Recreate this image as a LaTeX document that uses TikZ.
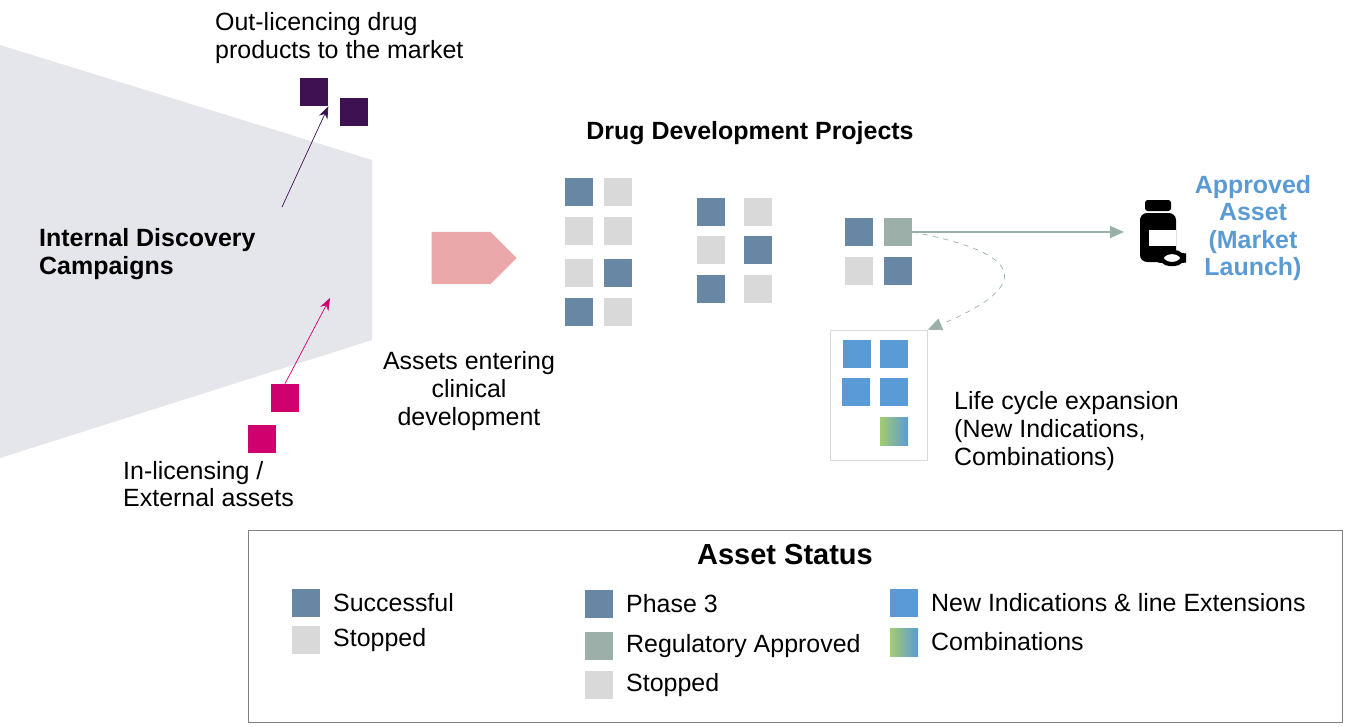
\documentclass[tikz,border=0pt]{standalone}
\usepackage{fontspec}
\setmainfont{Liberation Sans}
\usetikzlibrary{positioning,calc,shapes.arrows,arrows.meta}
\definecolor{succ}{HTML}{6787A5}
\definecolor{stop}{HTML}{D9D9D9}
\definecolor{regap}{HTML}{9CAFA8}
\definecolor{newind}{HTML}{5B9BD5}
\definecolor{comb}{HTML}{A3CC6E}
\definecolor{outc}{HTML}{3D1152}
\definecolor{inc}{HTML}{D0006F}
\definecolor{funnel}{HTML}{E5E5EC}
\definecolor{pinkarr}{HTML}{EBA8AA}
\definecolor{flow}{HTML}{9CB0AA}
\begin{document}
\begin{tikzpicture}[x=0.02cm,y=-0.02cm]
        \tikzset{sq/.style={minimum size=0.56cm, inner sep=0pt},
                 txt/.style={font=\fontsize{14.2}{15.8}\selectfont, align=center},
                 lbl/.style={font=\fontsize{14.2}{15.8}\selectfont, anchor=west}}
        \useasboundingbox (0,0) rectangle (1347,727);

        % funnel
        \fill[funnel] (0,45) -- (372,160) -- (372,340) -- (0,458) -- cycle;
        \node[txt, font=\fontsize{14.2}{15.8}\selectfont\bfseries, align=left, anchor=west] (disc) at (33,254) {Internal Discovery\\Campaigns};

        % out-licencing
        \node[sq, fill=outc] (o1) at (314,92) {};
        \node[sq, fill=outc] (o2) at (354,112) {};
        \coordinate (ostart) at (282,207);
        \draw[outc, -{Stealth[length=7pt]}] (ostart) -- (o1.south east);
        \node[txt, align=left, anchor=west] (otext) at (209,38) {Out-licencing drug\\products to the market};

        % in-licensing
        \node[sq, fill=inc] (i1) at (285,398) {};
        \node[sq, fill=inc] (i2) at (262,439) {};
        \coordinate (iend) at (330,298);
        \draw[inc, -{Stealth[length=7pt]}] (i1.north) -- (iend);
        \node[txt, align=left, anchor=west] (itext) at (117,484) {In-licensing /\\External assets};

        % entering arrow
        \node[single arrow, fill=pinkarr, minimum height=1.7cm, minimum width=1.05cm, single arrow head extend=0pt, single arrow tip angle=90, inner sep=0pt] (enter) at (461,258) {};
        \node[txt] (etext) at (469,391) {Assets entering\\clinical\\development};

        \node[txt, font=\fontsize{14.2}{15.8}\selectfont\bfseries] (proj) at (750,133) {Drug Development Projects};

        % group 1
        \node[sq, fill=succ] (a1) at (579,192) {};
        \node[sq, fill=stop] (a2) at (618,192) {};
        \node[sq, fill=stop] (a3) at (579,231) {};
        \node[sq, fill=stop] (a4) at (618,231) {};
        \node[sq, fill=stop] (a5) at (579,273) {};
        \node[sq, fill=succ] (a6) at (618,273) {};
        \node[sq, fill=succ] (a7) at (579,312) {};
        \node[sq, fill=stop] (a8) at (618,312) {};

        % group 2
        \node[sq, fill=succ] (b1) at (711,212) {};
        \node[sq, fill=stop] (b2) at (758,212) {};
        \node[sq, fill=stop] (b3) at (711,250) {};
        \node[sq, fill=succ] (b4) at (758,250) {};
        \node[sq, fill=succ] (b5) at (711,289) {};
        \node[sq, fill=stop] (b6) at (758,289) {};

        % group 3
        \node[sq, fill=succ] (c1) at (859,232) {};
        \node[sq, fill=regap] (c2) at (898,232) {};
        \node[sq, fill=stop] (c3) at (859,271) {};
        \node[sq, fill=succ] (c4) at (898,271) {};

        % approved
        \coordinate (bottle) at (1160,232);
        \draw[flow, thick, -{Triangle[length=8pt,width=7pt]}] (c2.east) -- (1124,232);
        \fill[black, rounded corners=1.5pt] (1145,200) rectangle (1171,211);
        \fill[black, rounded corners=4pt] (1140,213) rectangle (1176,262);
        \fill[white] (1149,230) rectangle (1176,246);
        \draw[black, line width=2.5pt, fill=white, rounded corners=6pt] (1160,252) rectangle (1184,264);
        \node[txt, font=\fontsize{14.2}{15.5}\selectfont\bfseries, text=newind] (appr) at (1253,228) {Approved\\Asset\\(Market\\Launch)};

        % life cycle
        \node[draw=stop, minimum width=1.94cm, minimum height=2.6cm, inner sep=0pt] (lcbox) at (879,395) {};
        \node[sq, fill=newind] (l1) at (857,354) {};
        \node[sq, fill=newind] (l2) at (894,354) {};
        \node[sq, fill=newind] (l3) at (856,392) {};
        \node[sq, fill=newind] (l4) at (894,392) {};
        \node[sq, left color=comb, right color=newind] (l5) at (894,431) {};
        \draw[flow, dashed, -{Triangle[length=8pt,width=7pt]}] (c2.east) .. controls (1060,260) and (1000,300) .. (lcbox.north east);
        \node[txt, align=left, anchor=west] (lctext) at (948,431) {Life cycle expansion\\(New Indications,\\Combinations)};

        % legend
        \node[draw=gray, minimum width=21.88cm, minimum height=3.84cm, inner sep=0pt] (leg) at (795,626) {};
        \node[font=\fontsize{16.5}{18}\selectfont\bfseries] (legt) at (785,555) {Asset Status};
        \node[sq, fill=succ] (k1) at (306,603) {}; \node[lbl] at (327,603) {Successful};
        \node[sq, fill=stop] (k2) at (306,640) {}; \node[lbl] at (327,640) {Stopped};
        \node[sq, fill=succ] (k3) at (599,604) {}; \node[lbl] at (620,604) {Phase 3};
        \node[sq, fill=regap] (k4) at (599,646) {}; \node[lbl] at (620,646) {Regulatory Approved};
        \node[sq, fill=stop] (k5) at (599,685) {}; \node[lbl] at (620,685) {Stopped};
        \node[sq, fill=newind] (k6) at (904,603) {}; \node[lbl] at (925,603) {New Indications \& line Extensions};
        \node[sq, left color=comb, right color=newind] (k7) at (904,642) {}; \node[lbl] at (925,642) {Combinations};
\end{tikzpicture}
\end{document}
